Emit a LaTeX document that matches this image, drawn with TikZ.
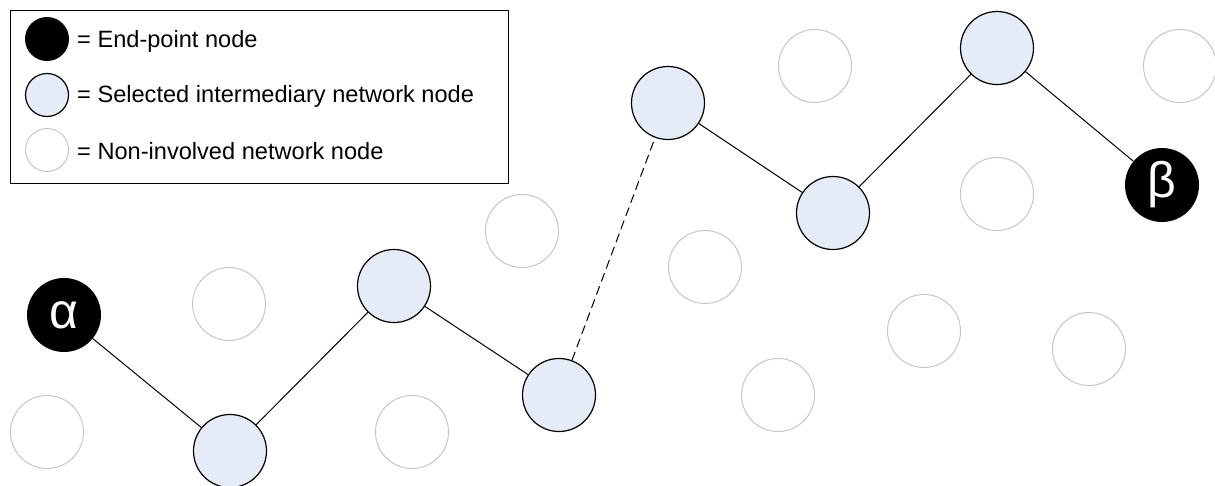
\documentclass[tikz,border=0pt]{standalone}
\usepackage{fontspec}
\setmainfont{Liberation Sans}
\definecolor{pathBlue}{RGB}{230,236,247}
\definecolor{idleGray}{RGB}{198,198,198}
\tikzset{
	endNode/.style={circle, fill=black, text=white, inner sep=0pt, minimum size=74pt, font=\fontsize{50}{50}\selectfont},
	pathNode/.style={circle, draw=black, line width=1.2pt, fill=pathBlue, inner sep=0pt, minimum size=73pt},
	idleNode/.style={circle, draw=idleGray, line width=1pt, inner sep=0pt, minimum size=73pt},
	keyText/.style={anchor=west, inner sep=0pt, font=\fontsize{23.6}{27}\selectfont},
	link/.style={line width=1pt}
}
\begin{document}
\begin{tikzpicture}[x=1pt, y=-1pt]
	\useasboundingbox (0,0) rectangle (1215,485);
	\node[rectangle, draw=black, line width=1pt, minimum width=498pt, minimum height=173pt, inner sep=0pt](legend) at (259,96.5){};
	\node[endNode, minimum size=44pt](keyEnd) at (47,39){};
	\node[pathNode, minimum size=43pt](keyPath) at (47,95){};
	\node[idleNode, minimum size=43pt](keyIdle) at (47,150){};
	\node[keyText](txtEnd) at (77,41){= End-point node};
	\node[keyText](txtPath) at (77,96){= Selected intermediary network node};
	\node[keyText](txtIdle) at (77,151){= Non-involved network node};
	\node[idleNode](g1) at (47,432){};
	\node[idleNode](g2) at (229,304){};
	\node[idleNode](g3) at (412,432){};
	\node[idleNode](g4) at (522,231){};
	\node[idleNode](g5) at (705,267){};
	\node[idleNode](g6) at (778,395){};
	\node[idleNode](g7) at (815,66){};
	\node[idleNode](g8) at (924,331){};
	\node[idleNode](g9) at (997,194){};
	\node[idleNode](g10) at (1089,349){};
	\node[idleNode](g11) at (1180,66){};
	\node[endNode](alpha) at (64,315){α};
	\node[pathNode](hop1) at (230,451){};
	\node[pathNode](hop2) at (394,286){};
	\node[pathNode](hop3) at (559,395){};
	\node[pathNode](hop4) at (668,103){};
	\node[pathNode](hop5) at (833,213){};
	\node[pathNode](hop6) at (997,48){};
	\node[endNode](beta) at (1162,185){β};
	\draw[link](alpha) -- (hop1);
	\draw[link](hop1) -- (hop2);
	\draw[link](hop2) -- (hop3);
	\draw[link, dash pattern=on 9pt off 5pt](hop3) -- (hop4);
	\draw[link](hop4) -- (hop5);
	\draw[link](hop5) -- (hop6);
	\draw[link](hop6) -- (beta);
\end{tikzpicture}
\end{document}
